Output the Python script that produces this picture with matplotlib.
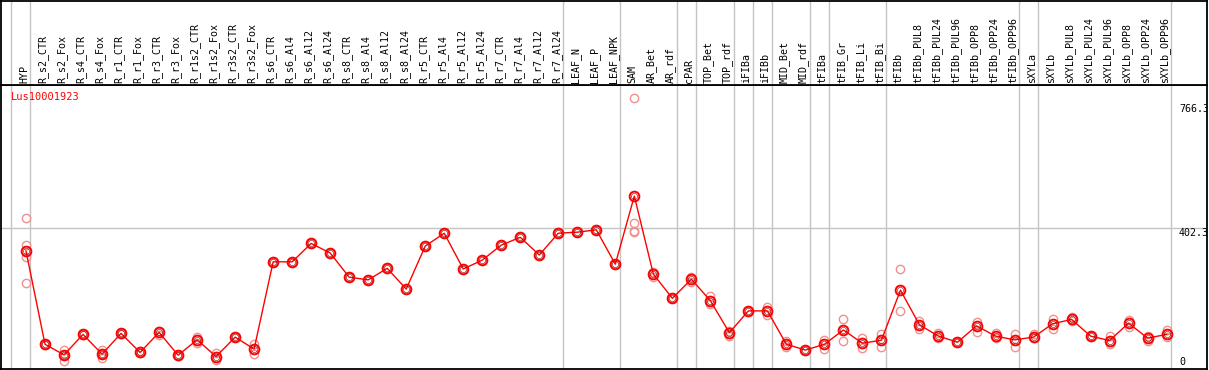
import matplotlib
matplotlib.use("Agg")
import matplotlib.pyplot as plt

# sample names along the top
labels = ["HYP", "R_s2_CTR", "R_s2_Fox", "R_s4_CTR", "R_s4_Fox", "R_r1_CTR", "R_r1_Fox",
          "R_r3_CTR", "R_r3_Fox", "R_r1s2_CTR", "R_r1s2_Fox", "R_r3s2_CTR", "R_r3s2_Fox",
          "R_s6_CTR", "R_s6_Al4", "R_s6_Al12", "R_s6_Al24", "R_s8_CTR", "R_s8_Al4",
          "R_s8_Al12", "R_s8_Al24", "R_r5_CTR", "R_r5_Al4", "R_r5_Al12", "R_r5_Al24",
          "R_r7_CTR", "R_r7_Al4", "R_r7_Al12", "R_r7_Al24", "LEAF_N", "LEAF_P", "LEAF_NPK",
          "SAM", "AR_Bet", "AR_rdf", "cPAR", "TOP_Bet", "TOP_rdf", "iFIBa", "iFIBb",
          "MID_Bet", "MID_rdf", "tFIBa", "tFIB_Gr", "tFIB_Li", "tFIB_Bi", "tFIBb",
          "tFIBb_PUL8", "tFIBb_PUL24", "tFIBb_PUL96", "tFIBb_OPP8", "tFIBb_OPP24",
          "tFIBb_OPP96", "sXYLa", "sXYLb", "sXYLb_PUL8", "sXYLb_PUL24", "sXYLb_PUL96",
          "sXYLb_OPP8", "sXYLb_OPP24", "sXYLb_OPP96"]

# mean expression per sample
means = [336, 62, 31, 91, 33, 94, 38, 97, 30, 75, 26, 83, 48,
         304, 304, 358, 330, 259, 251, 285, 224, 350, 388, 283, 309,
         353, 376, 324, 388, 391, 398, 297,
         497, 268, 197, 253, 190, 96, 160, 160, 62, 45, 62, 104, 65, 74, 221,
         119, 86, 68, 116, 86, 75, 83, 122, 135, 86, 73, 124, 80, 91]

# replicate values per sample
reps = [[432, 353, 317, 241], [62, 61], [45, 13, 31], [91, 90], [45, 23, 32], [94, 93],
        [42, 35], [102, 89], [30, 29], [82, 65], [37, 16], [83, 82], [62, 34],
        [304], [304], [358], [330], [259], [251], [285], [224], [350], [388], [283], [309],
        [353], [376], [324], [388], [391], [398], [297],
        [784, 417, 395, 392], [275, 259], [197], [260, 246], [204, 180], [102, 86],
        [160], [172, 148], [72, 53], [45], [75, 47], [135, 72], [81, 52], [92, 55],
        [283, 160], [131, 106], [96, 80], [68], [128, 99], [96, 80], [92, 55],
        [92, 80], [135, 106], [141, 131], [86], [86, 63], [133, 114], [86, 73], [104, 82]]

# group boundaries (vertical lines sit just right of these samples)
bounds = [-1, 0, 28, 31, 34, 35, 37, 38, 39, 41, 42, 45, 52, 53, 60]

gene = "Lus10001923"
ytick_vals = [766.3, 402.3, 0]

W, H = 1209, 370
x0, dx = 26, 19.01          # pixel of first sample, spacing
yv0, ys = 365.4, 0.3407     # pixel of zero, pixels per unit
xlim = ((1 - x0) / dx, (1207 - x0) / dx)
ylim = ((yv0 - 368.5) / ys, (yv0 - 85) / ys)

mono = "DejaVu Sans Mono"
grid_c = "#c4c4c4"

fig = plt.figure(figsize=(W / 100, H / 100), dpi=100)
ax = fig.add_axes([1 / W, 1.5 / H, 1206 / W, 283.5 / H])
hx = fig.add_axes([1 / W, 285 / H, 1206 / W, 84.5 / H])

for a in (ax, hx):
    a.set_xlim(*xlim)
    a.set_xticks([])
    a.set_yticks([])
    for s in a.spines.values():
        s.set_color("black")
        s.set_linewidth(1.3)
    for b in bounds:
        a.axvline(b + 0.23, color=grid_c, lw=1, zorder=0)

ax.set_ylim(*ylim)
hx.set_ylim(0, 1)

# header labels
for i, lab in enumerate(labels):
    hx.text(i - 0.1, 0.025, lab, rotation=90, ha="center", va="bottom",
            fontsize=7.2, family=mono, color="black")

ax.axhline(402.3, color=grid_c, lw=1, zorder=0)

# replicates
for i, r in enumerate(reps):
    ax.plot([i] * len(r), r, "o", ms=6, mfc="none", mec="#f09090", mew=1.0, zorder=2)

xs = list(range(len(means)))
ax.plot(xs, means, "-", color="red", lw=1, zorder=3)
ax.plot(xs, means, "o", ms=7, mfc="none", mec="red", mew=1.4, zorder=4)
ax.plot(xs, means, "o", ms=4.4, mfc="none", mec="#7a0000", mew=0.4, zorder=5)

ax.text(0.008, 0.975, gene, transform=ax.transAxes, color="red", fontsize=7.5,
        family=mono, ha="left", va="top")

xt = (1179 - x0) / dx
for v in ytick_vals:
    if v > 0:
        ax.text(xt, v, f"{v:.1f}", fontsize=7.2, family=mono, ha="left", va="top", clip_on=True)
    else:
        ax.text(xt, 1.5, "0", fontsize=7.2, family=mono, ha="left", va="baseline", clip_on=True)

fig.savefig("out.png", dpi=100)
